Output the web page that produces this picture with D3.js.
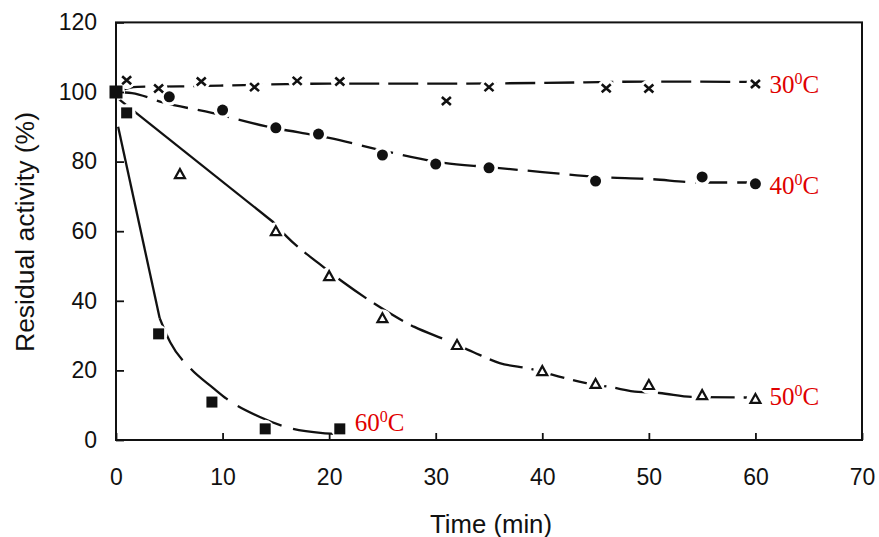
<!DOCTYPE html>
<html><head><meta charset="utf-8">
<script src="https://cdn.jsdelivr.net/npm/d3@7"></script>
<style>body{margin:0;background:#fff}svg{display:block}</style>
</head><body>
<svg id="chart" width="879" height="537"></svg>
<script>
// ---- data ----
const xTicks = [0, 10, 20, 30, 40, 50, 60, 70];
const yTicks = [0, 20, 40, 60, 80, 100, 120];

const t30 = [1, 4, 8, 13, 17, 21, 31, 35, 46, 50, 60];
const v30 = [103.4, 101, 103, 101.4, 103.2, 103, 97.4, 101.4, 101.1, 101, 102.3];
const t40 = [5, 10, 15, 19, 25, 30, 35, 45, 55, 60];
const v40 = [98.6, 94.8, 89.7, 87.9, 81.9, 79.3, 78.2, 74.4, 75.6, 73.6];
const t50 = [6, 15, 20, 25, 32, 40, 45, 50, 55, 60];
const v50 = [76.4, 60, 47.1, 35, 27.3, 19.8, 16.1, 15.8, 12.9, 11.8];
const t60 = [1, 4, 9, 14, 21];
const v60 = [94, 30.5, 10.9, 3.2, 3.2];
const tStart = [0];
const vStart = [100];

// fitted curves as drawn in the figure (solid part, dashed part)
const fit30T = [0, 2, 6, 12, 20, 30, 40, 50, 60];
const fit30V = [100, 101.5, 101.6, 102, 102.4, 102.4, 102.6, 103, 102.9];
const fit40T = [0, 1.5, 4.4, 9, 14, 20, 26, 30, 35, 40, 45, 50, 55, 60];
const fit40V = [100, 99.7, 97, 94, 90.2, 86.8, 82.5, 80, 78.4, 77, 75.6, 75, 74, 74];
const fit50SolidT = [0, 14.8];
const fit50SolidV = [98.6, 62.5];
const fit50DashT = [14.8, 16, 19, 21.3, 24.6, 28, 31, 33.5, 36, 39, 41, 44, 46.4, 49, 51, 54, 60];
const fit50DashV = [62.5, 58.5, 50.8, 45.4, 38.5, 32.5, 28.7, 25.3, 22.1, 20.4, 18.7, 16.4, 15.2, 13.8, 13.5, 12.4, 12.2];
const fit60SolidT = [0.2, 4.1];
const fit60SolidV = [90, 35];
const fit60DashT = [4.1, 5.1, 7, 9.1, 10.4, 13.5, 16.6, 19.4, 20.5];
const fit60DashV = [35, 28, 20.5, 15, 11.8, 6.6, 3.2, 2, 1.8];

const labels = ["30", "40", "50", "60"];

// ---- layout ----
const svg = d3.select("#chart");
const x = d3.scaleLinear().domain([0, 70]).range([116, 862]);
const y = d3.scaleLinear().domain([0, 120]).range([440, 22.4]);
const zip = (a, b) => a.map((d, i) => [d, b[i]]);

const smooth = d3.line().x(d => x(d[0])).y(d => y(d[1])).curve(d3.curveMonotoneX);
const straight = d3.line().x(d => x(d[0])).y(d => y(d[1]));

// mask to break the lines around markers
const defs = svg.append("defs");
const mask = defs.append("mask").attr("id", "gap").attr("maskUnits", "userSpaceOnUse")
  .attr("x", 0).attr("y", 0).attr("width", 879).attr("height", 537);
mask.append("rect").attr("width", 879).attr("height", 537).attr("fill", "#fff");
const allPts = [].concat(zip(t30, v30), zip(t40, v40), zip(t50, v50), zip(t60, v60), zip(tStart, vStart));
mask.selectAll("circle").data(allPts).join("circle")
  .attr("cx", d => x(d[0])).attr("cy", d => y(d[1])).attr("r", 9).attr("fill", "#000");

const lines = svg.append("g").attr("mask", "url(#gap)")
  .attr("fill", "none").attr("stroke", "#111").attr("stroke-width", 2.3);

lines.append("path").attr("d", smooth(zip(fit30T, fit30V))).attr("stroke-dasharray", "30,9");
lines.append("path").attr("d", smooth(zip(fit40T, fit40V))).attr("stroke-dasharray", "32,10");
lines.append("path").attr("d", straight(zip(fit50SolidT, fit50SolidV)));
lines.append("path").attr("d", smooth(zip(fit50DashT, fit50DashV))).attr("stroke-dasharray", "34,9");
lines.append("path").attr("d", straight(zip(fit60SolidT, fit60SolidV)));
lines.append("path").attr("d", smooth(zip(fit60DashT, fit60DashV))).attr("stroke-dasharray", "48,12");

// frame
svg.append("rect").attr("x", x(0)).attr("y", y(120)).attr("width", x(70) - x(0)).attr("height", y(0) - y(120))
  .attr("fill", "none").attr("stroke", "#111").attr("stroke-width", 2);

// axes (inward ticks)
const font = "'Liberation Sans', Arial, sans-serif";
const gx = svg.append("g").attr("transform", `translate(0,${y(0)})`)
  .call(d3.axisBottom(x).tickValues(xTicks).tickSize(-7).tickPadding(24).tickFormat(d3.format("d")));
const gy = svg.append("g").attr("transform", `translate(${x(0)},0)`)
  .call(d3.axisLeft(y).tickValues(yTicks).tickSize(-8).tickPadding(19).tickFormat(d3.format("d")));
[gx, gy].forEach(g => {
  g.select(".domain").remove();
  g.selectAll(".tick line").attr("stroke", "#111").attr("stroke-width", 1.8);
  g.selectAll("text").attr("font-family", font).attr("font-size", 23).attr("fill", "#111");
});
gx.selectAll(".tick text").attr("dy", "0.9em");

svg.append("text").attr("x", 491).attr("y", 533).attr("text-anchor", "middle")
  .attr("font-family", font).attr("font-size", 25).attr("fill", "#111")
  .attr("textLength", 122).attr("lengthAdjust", "spacingAndGlyphs").text("Time (min)");
svg.append("text").attr("transform", "translate(34,232) rotate(-90)").attr("text-anchor", "middle")
  .attr("font-family", font).attr("font-size", 25).attr("fill", "#111")
  .attr("textLength", 240).attr("lengthAdjust", "spacingAndGlyphs").text("Residual activity (%)");

// markers
const mk = svg.append("g");
// 30 C crosses
mk.selectAll(".cross").data(zip(t30, v30)).join("path").attr("class", "cross")
  .attr("transform", d => `translate(${x(d[0])},${y(d[1])})`)
  .attr("d", "M-4.5,-4 L4.5,4 M-4.5,4 L4.5,-4").attr("stroke", "#111").attr("stroke-width", 2.6).attr("fill", "none");
// 40 C filled circles
mk.selectAll(".dot").data(zip(t40, v40)).join("circle").attr("class", "dot")
  .attr("cx", d => x(d[0])).attr("cy", d => y(d[1])).attr("r", 5.5).attr("fill", "#111");
// 50 C open triangles
mk.selectAll(".tri").data(zip(t50, v50)).join("path").attr("class", "tri")
  .attr("transform", d => `translate(${x(d[0])},${y(d[1])})`)
  .attr("d", "M0,-5 L5,4 L-5,4 Z").attr("stroke", "#111").attr("stroke-width", 2.2).attr("fill", "#fff");
// 60 C filled squares
mk.selectAll(".sq").data(zip(t60, v60)).join("rect").attr("class", "sq")
  .attr("x", d => x(d[0]) - 5.5).attr("y", d => y(d[1]) - 5.5).attr("width", 11).attr("height", 11).attr("fill", "#111");
// common starting point
mk.selectAll(".st").data(zip(tStart, vStart)).join("rect").attr("class", "st")
  .attr("x", d => x(d[0]) - 6.5).attr("y", d => y(d[1]) - 6.5).attr("width", 13).attr("height", 13).attr("fill", "#111");

// red temperature labels
const labelPos = [[60, v30[v30.length - 1], 14, 9], [60, v40[v40.length - 1], 14, 10],
                  [60, v50[v50.length - 1], 14, 6], [21, v60[v60.length - 1], 15, 2]];
labels.forEach((lab, i) => {
  const p = labelPos[i];
  const t = svg.append("text").attr("x", x(p[0]) + p[2]).attr("y", y(p[1]) + p[3])
    .attr("font-family", "'Liberation Serif', 'Times New Roman', serif").attr("font-size", 25).attr("fill", "#e00000");
  t.append("tspan").text(lab);
  t.append("tspan").attr("font-size", 16).attr("dy", -9).text("0");
  t.append("tspan").attr("dy", 9).text("C");
});
</script>
</body></html>
